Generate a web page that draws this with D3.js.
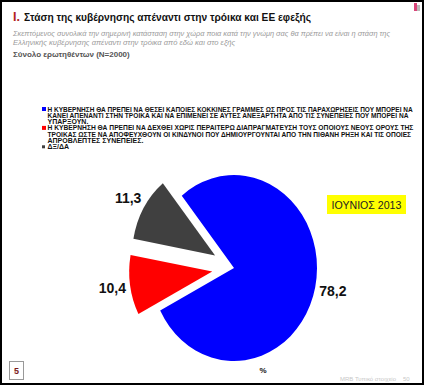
<!DOCTYPE html>
<html>
<head>
<meta charset="utf-8">
<script src="https://cdn.jsdelivr.net/npm/d3@7"></script>
<style>
	body { margin: 0; background: #fff; }
	svg { display: block; font-family: "Liberation Sans", Arial, sans-serif; }
</style>
</head>
<body>
<div id="chart"></div>
<script>
// --------- Data --------- //
var categories = ["kokkines", "dexthei", "dxda"];
var values = [78.2, 10.4, 11.3];
var colors = ["#0000ff", "#ff0000", "#404040"];
var legendLines = [
	["Η ΚΥΒΕΡΝΗΣΗ ΘΑ ΠΡΕΠΕΙ ΝΑ ΘΕΣΕΙ ΚΑΠΟΙΕΣ ΚΟΚΚΙΝΕΣ ΓΡΑΜΜΕΣ ΩΣ ΠΡΟΣ ΤΙΣ ΠΑΡΑΧΩΡΗΣΕΙΣ ΠΟΥ ΜΠΟΡΕΙ ΝΑ",
	 "ΚΑΝΕΙ ΑΠΕΝΑΝΤΙ ΣΤΗΝ ΤΡΟΙΚΑ ΚΑΙ ΝΑ ΕΠΙΜΕΝΕΙ ΣΕ ΑΥΤΕΣ ΑΝΕΞΑΡΤΗΤΑ ΑΠΟ ΤΙΣ ΣΥΝΕΠΕΙΕΣ ΠΟΥ ΜΠΟΡΕΙ ΝΑ",
	 "ΥΠΑΡΞΟΥΝ."],
	["Η ΚΥΒΕΡΝΗΣΗ ΘΑ ΠΡΕΠΕΙ ΝΑ ΔΕΧΘΕΙ ΧΩΡΙΣ ΠΕΡΑΙΤΕΡΩ ΔΙΑΠΡΑΓΜΑΤΕΥΣΗ ΤΟΥΣ ΟΠΟΙΟΥΣ ΝΕΟΥΣ  ΟΡΟΥΣ ΤΗΣ",
	 "ΤΡΟΙΚΑΣ ΩΣΤΕ ΝΑ ΑΠΟΦΕΥΧΘΟΥΝ ΟΙ ΚΙΝΔΥΝΟΙ ΠΟΥ ΔΗΜΙΟΥΡΓΟΥΝΤΑΙ ΑΠΟ ΤΗΝ ΠΙΘΑΝΗ ΡΗΞΗ ΚΑΙ ΤΙΣ ΟΠΟΙΕΣ",
	 "ΑΠΡΟΒΛΕΠΤΕΣ ΣΥΝΕΠΕΙΕΣ."],
	["ΔΞ/ΔΑ"]
];
var exploded = [false, true, true];
var dateLabel = "ΙΟΥΝΙΟΣ 2013";
// --------- /Data --------- //

var W = 424, H = 385;
var svg = d3.select("#chart").append("svg").attr("width", W).attr("height", H);

// shrink a text's font until it fits the width it has in the picture
function fitText(sel, maxW){
	sel.each(function(){
		var node = this;
		var fs = parseFloat(d3.select(node).attr("font-size"));
		while (node.getComputedTextLength() > maxW && fs > 4){
			fs -= 0.1;
			d3.select(node).attr("font-size", fs);
		}
	});
	return sel;
}

// frame
svg.append("rect").attr("x", 1).attr("y", 1).attr("width", W - 2).attr("height", H - 2)
	.attr("fill", "#fff").attr("stroke", "#000").attr("stroke-width", 2);

// top right logo mark
svg.append("rect").attr("x", 414).attr("y", 3).attr("width", 3).attr("height", 8).attr("fill", "#d9467a");
svg.append("rect").attr("x", 417).attr("y", 5).attr("width", 3).attr("height", 6).attr("fill", "#bbb");

// --------- Header --------- //
svg.append("text").attr("x", 13).attr("y", 20.5)
	.attr("font-size", 12.5).attr("font-weight", "bold").attr("fill", "#b22222").text("Ι.");
fitText(svg.append("text").attr("x", 24).attr("y", 20.5)
	.attr("font-size", 12.5).attr("font-weight", "bold").attr("fill", "#111")
	.text("Στάση της κυβέρνησης απέναντι στην τρόικα και ΕΕ εφεξής"), 289);

fitText(svg.append("text").attr("x", 13).attr("y", 36).attr("font-size", 8).attr("font-style", "italic")
	.attr("fill", "#9a9a9a")
	.text("Σκεπτόμενος συνολικά την σημερινή κατάσταση στην χώρα  ποια κατά την γνώμη σας θα πρέπει να είναι η στάση της"), 381);
fitText(svg.append("text").attr("x", 13).attr("y", 44.5).attr("font-size", 8).attr("font-style", "italic")
	.attr("fill", "#9a9a9a")
	.text("Ελληνικής κυβέρνησης απέναντι στην τρόικα από εδώ και στο εξής"), 224);
fitText(svg.append("text").attr("x", 13).attr("y", 57).attr("font-size", 8.5).attr("font-weight", "bold")
	.attr("fill", "#555")
	.text("Σύνολο ερωτηθέντων (N=2000)"), 117);
// --------- /Header --------- //

// --------- Legend --------- //
var lineH = 6.3;
var legend = svg.append("g").attr("transform", "translate(42,109)");
var row = 0;
categories.forEach(function(cat, i){
	var y0 = row * lineH;
	var sq = i === 2 ? 3 : 4;
	legend.append("rect").attr("x", 0).attr("y", y0 - sq / 2).attr("width", sq).attr("height", sq)
		.attr("fill", colors[i]);
	legendLines[i].forEach(function(line, j){
		fitText(legend.append("text").attr("x", 5.5).attr("y", (row + j) * lineH + 2.5)
			.attr("font-family", "'Liberation Sans Narrow', 'Liberation Sans', Arial, sans-serif")
			.attr("font-size", 7).attr("font-weight", "bold").attr("fill", "#111")
			.text(line), 366);
	});
	row += legendLines[i].length;
});
// --------- /Legend --------- //

// --------- Pie --------- //
var cx = 234, cy = 268, r = 83, sy = 1.12, explode = 22, labelGap = 18;
var startA = -39 * Math.PI / 180;

var pie = d3.pie().sort(null).startAngle(startA).endAngle(startA + 2 * Math.PI);
var arcs = pie(values);
var arc = d3.arc().innerRadius(0).outerRadius(r);
var fmt = function(v){ return d3.format(".1f")(v).replace(".", ","); };

var pieG = svg.append("g").attr("transform", "translate(" + cx + "," + cy + ") scale(1," + sy + ")");
pieG.selectAll("path").data(arcs).enter().append("path")
	.attr("d", arc)
	.attr("fill", function(d, i){ return colors[i]; })
	.attr("transform", function(d, i){
		if (!exploded[i]) return null;
		var a = (d.startAngle + d.endAngle) / 2;
		return "translate(" + (Math.sin(a) * explode) + "," + (-Math.cos(a) * explode) + ")";
	});

// value labels, placed in screen space so the text is not stretched
svg.selectAll("text.val").data(arcs).enter().append("text").attr("class", "val")
	.attr("x", function(d, i){
		var a = (d.startAngle + d.endAngle) / 2;
		var rr = r + labelGap + (exploded[i] ? explode : 0);
		return cx + Math.sin(a) * rr;
	})
	.attr("y", function(d, i){
		var a = (d.startAngle + d.endAngle) / 2;
		var rr = r + labelGap + (exploded[i] ? explode : 0);
		return cy - Math.cos(a) * rr * sy + 5;
	})
	.attr("text-anchor", "middle").attr("font-size", 14).attr("font-weight", "bold").attr("fill", "#111")
	.text(function(d){ return fmt(d.value); });

svg.append("text").attr("x", 263).attr("y", 373).attr("text-anchor", "middle")
	.attr("font-size", 8).attr("font-weight", "bold").attr("fill", "#111").text("%");
// --------- /Pie --------- //

// date badge
svg.append("rect").attr("x", 327).attr("y", 195).attr("width", 79).attr("height", 19).attr("fill", "#ffff00");
fitText(svg.append("text").attr("x", 366.5).attr("y", 208.5).attr("text-anchor", "middle")
	.attr("font-size", 11).attr("fill", "#222")
	.text(dateLabel), 70);

// page number box
svg.append("rect").attr("x", 9.5).attr("y", 361.5).attr("width", 14).attr("height", 18)
	.attr("fill", "#fff").attr("stroke", "#999");
svg.append("text").attr("x", 16.5).attr("y", 374).attr("text-anchor", "middle")
	.attr("font-size", 9).attr("font-weight", "bold").attr("fill", "#7b1a1a").text("5");

// footer
svg.append("text").attr("x", 340).attr("y", 381).attr("font-size", 6).attr("fill", "#c8c8c8")
	.text("MRB Τυπικό στοιχείο");
svg.append("text").attr("x", 403).attr("y", 381).attr("font-size", 6).attr("fill", "#c8c8c8").text("50");
</script>
</body>
</html>
